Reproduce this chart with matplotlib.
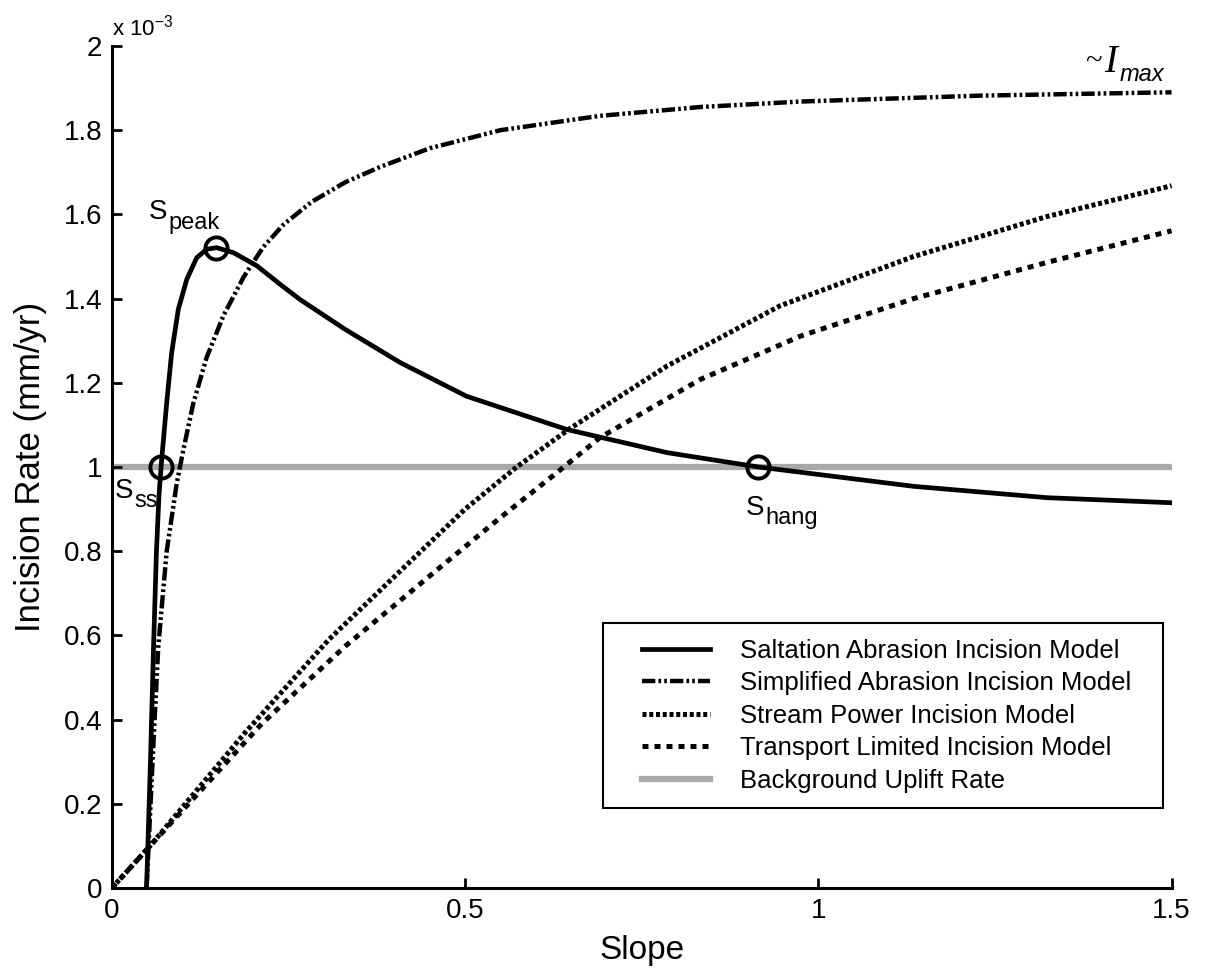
import numpy as np
import matplotlib.pyplot as plt
from matplotlib.lines import Line2D
from matplotlib.legend_handler import HandlerLine2D

plt.rcParams['font.family'] = ['Liberation Sans', 'DejaVu Sans']

# incision rates in units of 1e-3 mm/yr
sal_x = [0.049, 0.0545, 0.059, 0.063, 0.0665, 0.070, 0.0775, 0.0845, 0.094, 0.106,
         0.120, 0.134, 0.148, 0.172, 0.205, 0.238, 0.266, 0.330, 0.408, 0.502,
         0.644, 0.786, 0.915, 1.135, 1.324, 1.5]
sal_y = [0.0, 0.30, 0.58, 0.80, 0.93, 1.01, 1.152, 1.271, 1.375, 1.446,
         1.497, 1.517, 1.521, 1.509, 1.478, 1.434, 1.398, 1.327, 1.248, 1.168,
         1.089, 1.034, 1.0, 0.954, 0.927, 0.915]

sim_x = [0.049, 0.0585, 0.0656, 0.0775, 0.0916, 0.101, 0.115, 0.134, 0.158, 0.186,
         0.214, 0.243, 0.283, 0.33, 0.38, 0.45, 0.55, 0.691, 0.833, 0.975, 1.229, 1.5]
sim_y = [0.0, 0.336, 0.574, 0.80, 0.96, 1.04, 1.15, 1.26, 1.36, 1.45,
         1.522, 1.576, 1.630, 1.676, 1.713, 1.757, 1.80, 1.834, 1.855, 1.868, 1.882, 1.890]

sp_x = [0, 0.054, 0.189, 0.307, 0.425, 0.50, 0.573, 0.649, 0.786, 0.946, 1.135, 1.324, 1.5]
sp_y = [0, 0.10, 0.37, 0.59, 0.78, 0.90, 1.0, 1.092, 1.24, 1.383, 1.50, 1.595, 1.668]

tl_x = [0, 0.054, 0.212, 0.330, 0.472, 0.55, 0.625, 0.691, 0.833, 0.975, 1.135, 1.324, 1.5]
tl_y = [0, 0.10, 0.39, 0.574, 0.772, 0.88, 0.98, 1.07, 1.208, 1.311, 1.40, 1.486, 1.561]

uplift_x = [0, 1.5]
uplift_y = [1.0, 1.0]

# marked slopes: S_ss, S_peak, S_hang
pts_x = [0.070, 0.148, 0.915]
pts_y = [1.0, 1.521, 1.0]

xticks = [0, 0.5, 1, 1.5]
xticklabels = ['0', '0.5', '1', '1.5']
yticks = [0, 0.2, 0.4, 0.6, 0.8, 1.0, 1.2, 1.4, 1.6, 1.8, 2.0]
yticklabels = ['0', '0.2', '0.4', '0.6', '0.8', '1', '1.2', '1.4', '1.6', '1.8', '2']

fig = plt.figure(figsize=(12.09, 9.8), dpi=100)
ax = fig.add_axes([0.0926, 0.0939, 0.8764, 0.8592])

ax.plot(uplift_x, uplift_y, color='#a9a9a9', lw=4.5, zorder=1,
        label='Background Uplift Rate')
l1, = ax.plot(sal_x, sal_y, color='black', lw=3.4, zorder=3,
              label='Saltation Abrasion Incision Model')
l2, = ax.plot(sim_x, sim_y, color='black', lw=3.2, zorder=3,
              label='Simplified Abrasion Incision Model')
l2.set_dashes([3.0, 0.7, 0.6, 0.7, 0.6, 0.7])
l3, = ax.plot(sp_x, sp_y, color='black', lw=3.6, zorder=3,
              label='Stream Power Incision Model')
l3.set_dashes([0.8, 0.55])
l4, = ax.plot(tl_x, tl_y, color='black', lw=3.6, zorder=3,
              label='Transport Limited Incision Model')
l4.set_dashes([1.2, 1.2])

ax.plot(pts_x, pts_y, 'o', ms=16, mfc='none', mec='black', mew=2.8, zorder=4)

# S labels: main letter plus a subscript set a little lower
def s_label(x, y, sub):
    ax.text(x, y, 'S', fontsize=20, va='baseline', ha='left')
    ax.annotate(sub, xy=(x, y), xytext=(14, -7), textcoords='offset points',
                fontsize=17, va='baseline', ha='left')

s_label(0.052, 1.589, 'peak')
s_label(0.004, 0.927, 'ss')
s_label(0.897, 0.887, 'hang')

# ~ I_max
ax.text(1.378, 1.945, '~', fontsize=22, family='Liberation Serif', va='baseline')
ax.text(1.405, 1.938, 'I', fontsize=28, family='Liberation Serif', style='italic',
        va='baseline')
ax.text(1.427, 1.917, 'max', fontsize=17, style='italic', va='baseline')

ax.text(0.0, 1.013, r'x 10$^{\mathregular{-3}}$', transform=ax.transAxes, fontsize=16,
        va='baseline', ha='left')

ax.set_xlim(0, 1.5)
ax.set_ylim(0, 2)
ax.set_xticks(xticks)
ax.set_xticklabels(xticklabels)
ax.set_yticks(yticks)
ax.set_yticklabels(yticklabels)
ax.tick_params(direction='in', length=7, width=2, labelsize=20, pad=7)
for s in ['top', 'right']:
    ax.spines[s].set_visible(False)
for s in ['left', 'bottom']:
    ax.spines[s].set_linewidth(2.2)

ax.set_xlabel('Slope', fontsize=24, labelpad=8)
ax.set_ylabel('Incision Rate (mm/yr)', fontsize=25, labelpad=12)

handles, labels = ax.get_legend_handles_labels()
order = [1, 2, 3, 4, 0]
leg = ax.legend([handles[i] for i in order], [labels[i] for i in order],
                loc='lower left', bbox_to_anchor=(0.463, 0.095, 0.5285, 0.2),
                mode='expand', borderaxespad=0,
                fontsize=18.5, handlelength=3.6, handletextpad=1.15, labelspacing=0.33,
                borderpad=0.6, fancybox=False, framealpha=1, edgecolor='black',
                handler_map={Line2D: HandlerLine2D(xpad=0.95)})
leg.get_frame().set_linewidth(1.5)

fig.savefig('out.png', dpi=100)
